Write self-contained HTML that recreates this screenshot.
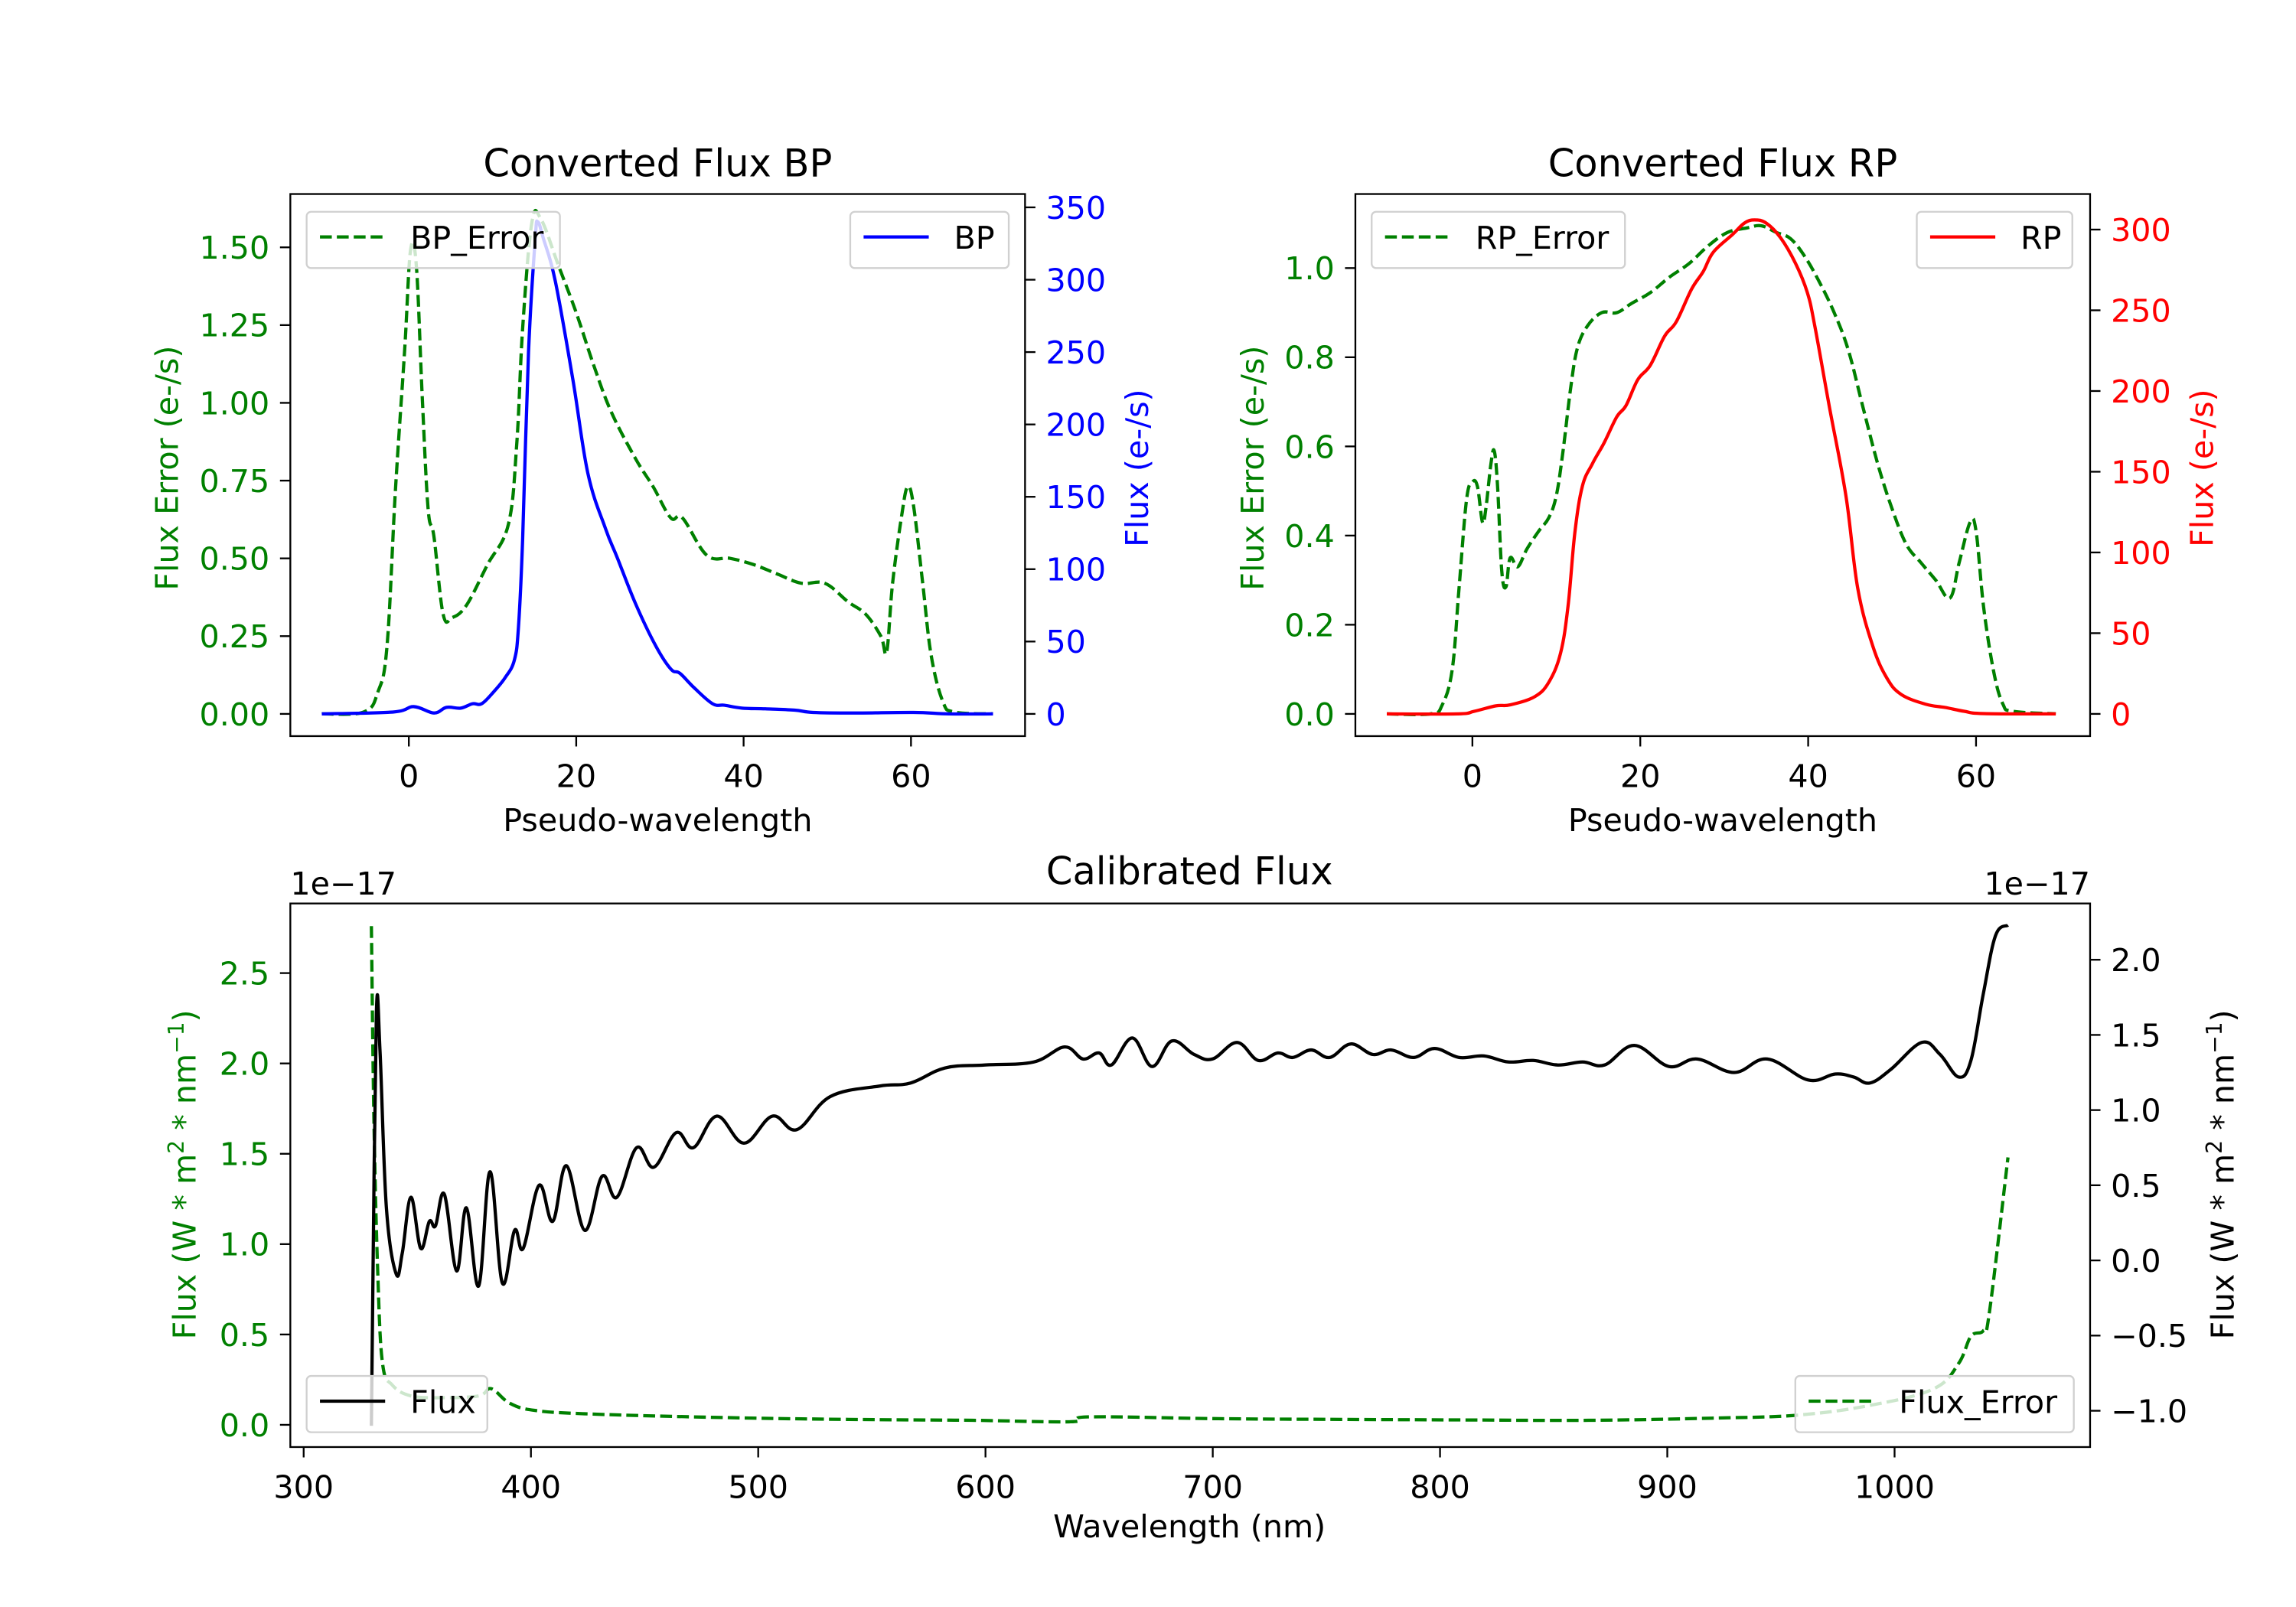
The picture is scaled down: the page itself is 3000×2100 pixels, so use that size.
<!DOCTYPE html>
<html><head><meta charset="utf-8"><style>
html,body{margin:0;padding:0;background:#fff;}
svg{display:block;}
text{font-family:"DejaVu Sans","Liberation Sans",sans-serif;}
</style></head><body>
<svg id="chart" width="3000" height="2100" viewBox="0 0 1550 1085" preserveAspectRatio="none" xmlns="http://www.w3.org/2000/svg"></svg>
<script>
// ---- BP panel data ----
const bpX = [-10.4,-1.9,0.6,3,4.5,6.2,7.6,8.7,10.1,11.5,12.6,13.1,13.6,14.3,15.1,15.4,16.1,17.5,19.6,21.4,23.5,24.9,27.1,29.5,31.3,32.4,34.1,36.3,37.7,39.8,42.6,46.1,48.3,53.2,60.3,64.5,69.8];
const bpFlux = [0,1.3,5,0.6,4.5,4,7,7,15,25,37,60,121,250,328,340,328,299,231,166,128,108,76,47,31,28,18,7,6,4,3.5,2.6,1,0.6,1,0,0];
const bpErrX = [-10.4,-5.4,-3.7,-2.6,-1.6,-0.5,0.2,0.9,1.6,2.3,3.0,4.1,5.2,6.9,9.4,11.9,12.9,13.6,14.7,15.8,17.9,20.0,22.1,24.2,27.1,29.2,31.3,32.7,35.6,38.4,41.2,44.0,46.9,49.7,52.5,54.6,56.4,57.1,57.8,58.9,59.6,60.3,61.4,62.4,63.8,65.2,69.8];
const bpErr = [0,0.006,0.07,0.22,0.72,1.17,1.49,1.44,1.02,0.66,0.57,0.32,0.31,0.35,0.48,0.61,0.87,1.24,1.58,1.59,1.44,1.29,1.12,0.97,0.82,0.73,0.63,0.63,0.51,0.50,0.48,0.45,0.42,0.42,0.36,0.32,0.25,0.20,0.42,0.64,0.73,0.67,0.42,0.19,0.04,0.006,0];
// ---- RP panel data ----
const rpX = [-10.2,-1.8,0.2,2.8,4.5,7.4,9.1,10.5,11.4,12.2,13.1,14.3,15.7,17.2,18.3,19.7,21.2,22.9,24.3,26.1,27.5,28.7,31.0,32.4,33.6,35.0,36.7,38.5,39.9,40.8,42.5,44.5,45.9,47.7,49.4,51.1,54.0,56.3,58.6,60.9,69.5];
const rpFlux = [0,0,1.6,5,5.6,10.6,19.6,37.6,67,112,141,155,168,184,191,207,216,234,243,263,274,286,297,304,306,304,295,279,261,240,191,135,78,42,22,12,6,4,1.6,0.2,0];
const rpErrX = [-10.2,-5,-3.6,-2.4,-1.6,-0.7,0,0.6,1.2,1.6,2.2,2.6,3.0,3.5,4.0,4.5,5.4,6.5,7.9,9.1,10.0,10.8,11.7,12.5,13.7,15.4,17.2,18.9,21.2,23.5,25.8,28.1,30.4,32.7,34.4,36.2,37.9,39.6,41.3,43.1,44.8,46.5,48.3,50.0,51.7,53.4,55.2,56.9,58.0,59.3,60.0,60.9,62.1,63.2,64.4,69.5];
const rpErr = [0,0,0.02,0.10,0.28,0.48,0.52,0.51,0.43,0.46,0.56,0.59,0.51,0.32,0.285,0.35,0.33,0.37,0.41,0.44,0.49,0.59,0.73,0.82,0.87,0.90,0.90,0.92,0.945,0.98,1.01,1.05,1.08,1.09,1.095,1.08,1.066,1.026,0.97,0.90,0.815,0.69,0.56,0.46,0.38,0.34,0.30,0.26,0.34,0.43,0.41,0.24,0.095,0.022,0.006,0];
// ---- Calibrated panel data (units of 1e-17) ----
const calX = [329.8,330.4,332,333.6,336.4,340.7,343.4,347.2,351.5,355.3,358,361.9,367.3,371.6,377,382,387.4,392.8,396.6,403.6,409.6,415.6,423.7,431.3,437.8,446.5,454.1,463.9,471.5,481.8,493.7,506.2,517,531.7,553.4,567,582.1,599.5,621.2,634.8,642.9,650,655.4,664.6,673.3,682,691.8,699.9,710.7,720,728.6,735.2,743.3,751.4,760.7,770.4,778.6,788.3,797.6,808.4,819.3,830.1,841,851.8,862.7,872.4,885.5,900.7,913.1,929.4,944,962,973.9,982,989.1,998.3,1011.9,1020,1028.2,1033.6,1039,1044.4,1049.9];
const calFlux = [-1.1,-0.24,1.65,1.39,0.35,-0.09,0.05,0.42,0.08,0.26,0.23,0.44,-0.07,0.35,-0.17,0.59,-0.15,0.2,0.08,0.5,0.26,0.63,0.2,0.56,0.42,0.75,0.62,0.85,0.75,0.96,0.78,0.96,0.87,1.09,1.16,1.18,1.28,1.3,1.32,1.42,1.34,1.38,1.3,1.48,1.29,1.46,1.37,1.34,1.45,1.33,1.38,1.35,1.40,1.35,1.44,1.37,1.40,1.35,1.41,1.35,1.36,1.32,1.33,1.30,1.32,1.30,1.43,1.29,1.34,1.25,1.34,1.20,1.24,1.22,1.18,1.27,1.45,1.37,1.22,1.33,1.77,2.16,2.23];
const calErrX = [329.8,330.9,332.6,334.7,339,347.2,360.8,377,382.5,390.6,401.5,425.9,485.6,539.8,594.1,637.5,645.6,702.6,756.9,811.1,865.4,919.6,957.6,990.2,1017.3,1028.2,1033.6,1039,1041.7,1049.9];
const calErr = [2.76,1.70,0.84,0.34,0.22,0.16,0.15,0.16,0.2,0.12,0.08,0.06,0.04,0.03,0.025,0.017,0.044,0.034,0.03,0.027,0.025,0.037,0.054,0.11,0.2,0.34,0.49,0.52,0.62,1.48];
// tick labels
const bpXTicks = [0,20,40,60];
const bpLeftTicks = [0,0.25,0.5,0.75,1.0,1.25,1.5];
const bpRightTicks = [0,50,100,150,200,250,300,350];
const rpXTicks = [0,20,40,60];
const rpLeftTicks = [0,0.2,0.4,0.6,0.8,1.0];
const rpRightTicks = [0,50,100,150,200,250,300];
const calXTicks = [300,400,500,600,700,800,900,1000];
const calLeftTicks = [0,0.5,1.0,1.5,2.0,2.5];
const calRightTicks = [-1.0,-0.5,0,0.5,1.0,1.5,2.0];

const FS = 21.3, TFS = 25.6;
const NS = "http://www.w3.org/2000/svg";
const svg = document.getElementById('chart');
function mk(tag, attrs, parent){const e=document.createElementNS(NS,tag);for(const k in attrs)e.setAttribute(k,attrs[k]);(parent||svg).appendChild(e);return e;}
function lin(d0,d1,p0,p1){return v=>p0+(v-d0)*(p1-p0)/(d1-d0);}
function fmt(v,dec){return (v<0?'\u2212':'')+Math.abs(v).toFixed(dec);}
function txt(s,attrs,name){const t=mk('text',attrs);t.textContent=s;


return t;}
function path(xs,ys,sx,sy,stroke,dash,name){
  const P=xs.map((x,i)=>[sx(x),sy(ys[i])]);
  let d='M'+P[0][0].toFixed(2)+','+P[0][1].toFixed(2);
  for(let i=0;i<P.length-1;i++){
    const p0=P[Math.max(i-1,0)],p1=P[i],p2=P[i+1],p3=P[Math.min(i+2,P.length-1)];
    const k=0.18;
    const c1=[p1[0]+(p2[0]-p0[0])*k,p1[1]+(p2[1]-p0[1])*k];
    const c2=[p2[0]-(p3[0]-p1[0])*k,p2[1]-(p3[1]-p1[1])*k];
    d+='C'+c1[0].toFixed(2)+','+c1[1].toFixed(2)+' '+c2[0].toFixed(2)+','+c2[1].toFixed(2)+' '+p2[0].toFixed(2)+','+p2[1].toFixed(2);
  }
  const p=mk('path',{d:d,fill:'none',stroke:stroke,'stroke-width':2.2,'stroke-linejoin':'round'});
  if(dash)p.setAttribute('stroke-dasharray','8,3.4');
  
  
}
function yTicks(ticks,sy,xAxis,side,color,dec,name){
  ticks.forEach(v=>{const y=sy(v);
    const x2=side<0?xAxis-7:xAxis+7;
    const l=mk('line',{x1:xAxis,y1:y,x2:x2,y2:y,stroke:'#000','stroke-width':1.2});
    
    
    txt(fmt(v,dec),{x:side<0?xAxis-14:xAxis+14,y:y+7.7,'font-size':FS,fill:color,'text-anchor':side<0?'end':'start'},name+'-label');
  });
}
function xTicks(ticks,sx,yAxis,name){
  ticks.forEach(v=>{const x=sx(v);
    const l=mk('line',{x1:x,y1:yAxis,x2:x,y2:yAxis+7,stroke:'#000','stroke-width':1.2});
    
    
    txt(String(v),{x:x,y:yAxis+34.5,'font-size':FS,'text-anchor':'middle',fill:'#000'},name+'-label');
  });
}
function frame(x0,y0,x1,y1,name){const r=mk('rect',{x:x0,y:y0,width:x1-x0,height:y1-y0,fill:'none',stroke:'#000','stroke-width':1.2});

}
function legend(x0,y0,w,label,color,dash,name){
  const g=mk('g',{});
  
  
  mk('rect',{x:x0,y:y0,width:w,height:38,rx:3,fill:'rgba(255,255,255,0.8)',stroke:'#d0d0d0','stroke-width':1.2},g);
  const l=mk('line',{x1:x0+9,y1:y0+17,x2:x0+53,y2:y0+17,stroke:color,'stroke-width':2.2},g);
  if(dash)l.setAttribute('stroke-dasharray','8,3.4');
  const t=mk('text',{x:x0+70,y:y0+25,'font-size':FS,fill:'#000'},g);t.textContent=label;
}
function vlabel(s,x,y,color,name){const t=txt(s,{x:x,y:y,'font-size':FS,fill:color,'text-anchor':'middle',transform:'rotate(-90 '+x+' '+y+')'},name);return t;}
const unitHTML='Flux (W * m<tspan dy="-8" font-size="14.5">2</tspan><tspan dy="8"> * nm</tspan><tspan dy="-8" font-size="14.5">\u22121</tspan><tspan dy="8">)</tspan>';

// ---------- BP panel ----------
{const L=196,R=692,T=131,B=497;
 const sx=lin(0,60,276,615), syL=lin(0,1.5,482,167), syR=lin(0,350,482,140);
 path(bpErrX,bpErr,sx,syL,'#008000',true,'bp-error-line');
 path(bpX,bpFlux,sx,syR,'#0000ff',false,'bp-flux-line');
 frame(L,T,R,B,'bp-axes');
 yTicks(bpLeftTicks,syL,L,-1,'#008000',2,'bp-left-axis');
 yTicks(bpRightTicks,syR,R,1,'#0000ff',0,'bp-right-axis');
 xTicks(bpXTicks,sx,B,'bp-x-axis');
 legend(207,143,171,'BP_Error','#008000',true,'bp-error-legend');
 legend(574,143,107,'BP','#0000ff',false,'bp-legend');
 txt('Converted Flux BP',{x:444,y:119,'font-size':TFS,'text-anchor':'middle'},'bp-title');
 txt('Pseudo-wavelength',{x:444,y:561,'font-size':FS,'text-anchor':'middle'},'bp-x-title');
 vlabel('Flux Error (e-/s)',120,316,'#008000','bp-left-title');
 vlabel('Flux (e-/s)',775,316,'#0000ff','bp-right-title');
}
// ---------- RP panel ----------
{const L=915,R=1411,T=131,B=497;
 const sx=lin(0,60,994,1334), syL=lin(0,1.0,482,181), syR=lin(0,300,482,155);
 path(rpErrX,rpErr,sx,syL,'#008000',true,'rp-error-line');
 path(rpX,rpFlux,sx,syR,'#ff0000',false,'rp-flux-line');
 frame(L,T,R,B,'rp-axes');
 yTicks(rpLeftTicks,syL,L,-1,'#008000',1,'rp-left-axis');
 yTicks(rpRightTicks,syR,R,1,'#ff0000',0,'rp-right-axis');
 xTicks(rpXTicks,sx,B,'rp-x-axis');
 legend(926,143,171,'RP_Error','#008000',true,'rp-error-legend');
 legend(1294,143,105,'RP','#ff0000',false,'rp-legend');
 txt('Converted Flux RP',{x:1163,y:119,'font-size':TFS,'text-anchor':'middle'},'rp-title');
 txt('Pseudo-wavelength',{x:1163,y:561,'font-size':FS,'text-anchor':'middle'},'rp-x-title');
 vlabel('Flux Error (e-/s)',853,316,'#008000','rp-left-title');
 vlabel('Flux (e-/s)',1494,316,'#ff0000','rp-right-title');
}
// ---------- Calibrated panel ----------
{const L=196,R=1411,T=610,B=977;
 const sx=lin(300,1000,205,1279), syL=lin(0,2.5,962,657), syR=lin(0,2.0,851,648);
 path(calErrX,calErr,sx,syL,'#008000',true,'flux-error-line');
 path(calX,calFlux,sx,syR,'#000000',false,'flux-line');
 frame(L,T,R,B,'calibrated-axes');
 yTicks(calLeftTicks,syL,L,-1,'#008000',1,'cal-left-axis');
 yTicks(calRightTicks,syR,R,1,'#000000',1,'cal-right-axis');
 xTicks(calXTicks,sx,B,'cal-x-axis');
 legend(207,929,122,'Flux','#000000',false,'flux-legend');
 legend(1212,929,188,'Flux_Error','#008000',true,'flux-error-legend');
 txt('Calibrated Flux',{x:803,y:597,'font-size':TFS,'text-anchor':'middle'},'cal-title');
 txt('1e\u221217',{x:196,y:604,'font-size':FS},'cal-left-offset');
 txt('1e\u221217',{x:1411,y:604,'font-size':FS,'text-anchor':'end'},'cal-right-offset');
 txt('Wavelength (nm)',{x:803,y:1038,'font-size':FS,'text-anchor':'middle'},'cal-x-title');
 const t1=vlabel('',132,793,'#008000','cal-left-title');
 t1.innerHTML=unitHTML;
 const t2=vlabel('',1508,793,'#000000','cal-right-title');
 t2.innerHTML=unitHTML;
}
</script>
</body></html>
